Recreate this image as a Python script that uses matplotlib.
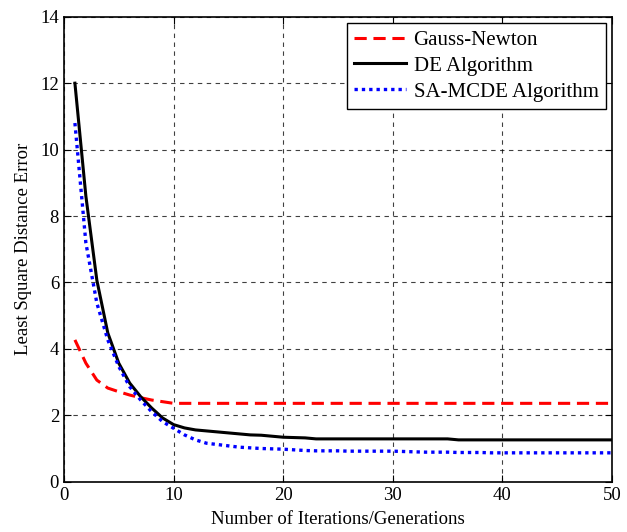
import numpy as np
import matplotlib.pyplot as plt

plt.rcParams['font.family'] = ['Liberation Serif', 'DejaVu Serif']
plt.rcParams['mathtext.fontset'] = 'stix'

iters = list(range(1, 51))

gauss_newton = [4.27, 3.57, 3.06, 2.82, 2.71, 2.61, 2.53, 2.46, 2.41, 2.36] + [2.36] * 40

de_algo = [12.0, 8.6, 6.07, 4.48, 3.57, 2.97, 2.56, 2.22, 1.92, 1.72,
           1.62, 1.56, 1.53, 1.50, 1.47, 1.44, 1.41, 1.40, 1.37, 1.34,
           1.33, 1.32, 1.29, 1.29, 1.29, 1.29, 1.29, 1.29, 1.29, 1.29,
           1.29, 1.29, 1.29, 1.29, 1.29, 1.26, 1.26, 1.26, 1.26, 1.26,
           1.26, 1.26, 1.26, 1.26, 1.26, 1.26, 1.26, 1.26, 1.26, 1.26]

sa_mcde = [10.8, 7.19, 5.38, 4.27, 3.47, 2.86, 2.46, 2.11, 1.81, 1.61,
           1.41, 1.26, 1.16, 1.12, 1.08, 1.04, 1.02, 1.00, 0.99, 0.98,
           0.96, 0.94, 0.93, 0.93, 0.93, 0.92, 0.92, 0.92, 0.92, 0.92,
           0.91, 0.90, 0.89, 0.89, 0.89, 0.88, 0.88, 0.88, 0.87, 0.87,
           0.87, 0.87, 0.87, 0.87, 0.87, 0.87, 0.87, 0.87, 0.87, 0.87]

fig = plt.figure(figsize=(6.27, 5.32), dpi=100)
ax = fig.add_axes([0.102, 0.0945, 0.874, 0.874])

ax.plot(iters, gauss_newton, color='red', ls=(0, (4, 2.2)), lw=2.2, label='Gauss-Newton')
ax.plot(iters, de_algo, color='black', ls='-', lw=2.2, label='DE Algorithm')
ax.plot(iters, sa_mcde, color='blue', ls=(0, (1, 1.2)), lw=2.4, label='SA-MCDE Algorithm')

ax.set_xlim(0, 50)
ax.set_ylim(0, 14)
ax.set_xticks(range(0, 51, 10))
ax.set_yticks(range(0, 15, 2))
ax.tick_params(direction='in', top=True, right=True, labelsize=13.5, length=5)
ax.grid(True, color='black', ls=(0, (4, 4)), lw=0.8, alpha=0.75)
for s in ax.spines.values():
    s.set_linewidth(1.2)

ax.set_xlabel('Number of Iterations/Generations', fontsize=13.5, labelpad=5)
ax.set_ylabel('Least Square Distance Error', fontsize=13.5, labelpad=6)

leg = ax.legend(loc='upper right', fontsize=15, fancybox=False, framealpha=1,
                edgecolor='black', borderaxespad=0.3, handlelength=2.5,
                handletextpad=0.35, labelspacing=0.3, borderpad=0.35)
leg.get_frame().set_linewidth(1.0)

plt.savefig('out.png', dpi=100)
